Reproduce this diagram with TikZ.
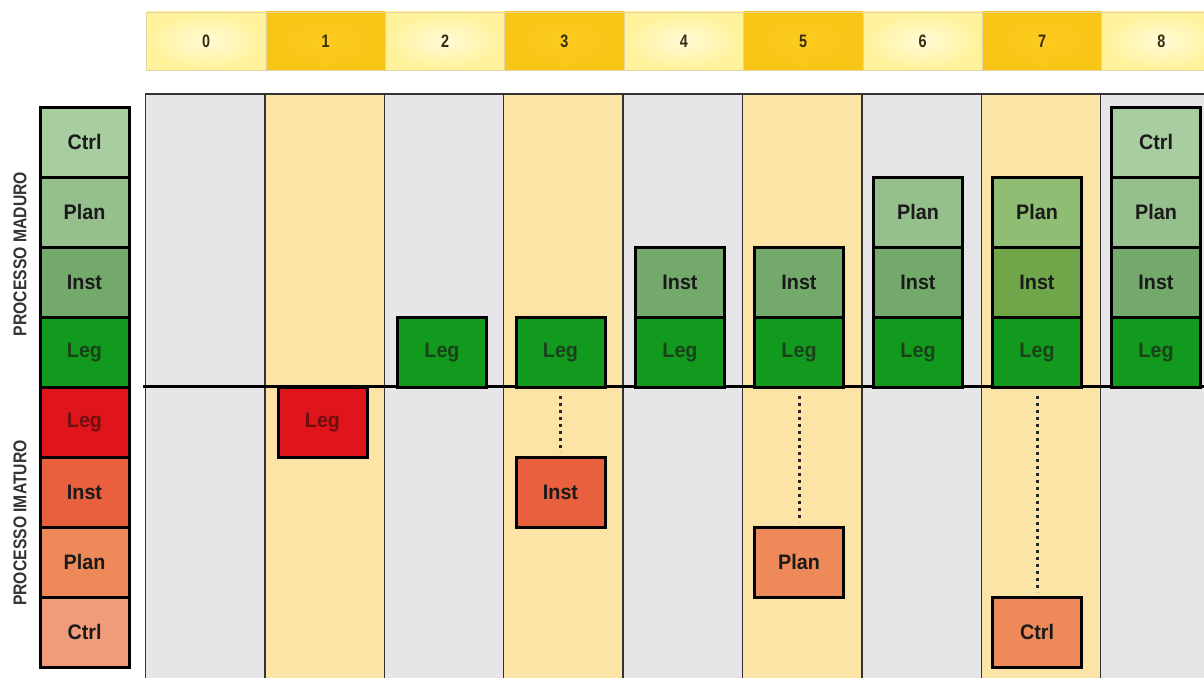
\documentclass[tikz,border=0pt]{standalone}
\usepackage{fontspec}
\setmainfont{Liberation Sans}
\newfontfamily\narrowf[FakeStretch=0.85]{Liberation Sans}
\newfontfamily\cellf[FakeStretch=0.94]{Liberation Sans}
\newfontfamily\digitf[FakeStretch=0.8]{Liberation Sans}
\definecolor{colgray}{HTML}{E6E6E8}
\definecolor{colyel}{HTML}{FCE4A6}
\definecolor{hlight}{HTML}{FFF29A}
\definecolor{hlightc}{HTML}{FFFBD6}
\definecolor{hdark}{HTML}{F9C516}
\definecolor{hdarkc}{HTML}{FCCB1E}
\definecolor{gLeg}{HTML}{129A1E}
\definecolor{gInst}{HTML}{74A96C}
\definecolor{gInstB}{HTML}{6FA64A}
\definecolor{gPlan}{HTML}{95BF8D}
\definecolor{gPlanB}{HTML}{8FBD74}
\definecolor{gCtrl}{HTML}{A8CDA0}
\definecolor{rLeg}{HTML}{E0141B}
\definecolor{rInst}{HTML}{E8603E}
\definecolor{rPlan}{HTML}{EE8A5A}
\definecolor{rCtrl}{HTML}{F09B7A}
\definecolor{legtxt}{HTML}{1A421A}
\definecolor{redtxt}{HTML}{6E1010}
\definecolor{txt}{HTML}{1A1A1A}
\definecolor{dig}{HTML}{3A2C10}
\tikzset{
  cell/.style={draw=black, line width=3pt, minimum width=89pt, minimum height=70pt,
    inner sep=0pt, font=\cellf\bfseries\fontsize{21}{21}\selectfont, text=txt},
  hcell/.style={draw=hdark!60!gray!50, line width=0.6pt, minimum width=119.4pt, minimum height=58pt,
    inner sep=0pt, font=\digitf\bfseries\fontsize{18}{18}\selectfont, text=dig},
  hl/.style={hcell, inner color=hlightc, outer color=hlight},
  hd/.style={hcell, inner color=hdarkc, outer color=hdark},
  colbox/.style={draw=black!80, line width=1.4pt},
  dotline/.style={line width=3pt, dash pattern=on 3pt off 4pt, draw=black!85},
  side/.style={rotate=90, font=\narrowf\bfseries\fontsize{18.5}{18.5}\selectfont, text=black!80}
}
\begin{document}
\begin{tikzpicture}[x=1pt,y=-1pt]
\useasboundingbox (0,0) rectangle (1204,677);
\fill[white] (0,0) rectangle (1204,677);
% header
\foreach \i in {0,...,8}{
  \pgfmathsetmacro{\cx}{146.5+119.4*(\i+0.5)}
  \ifodd\i
    \node[hd] (h\i) at (\cx,41) {\i};
  \else
    \node[hl] (h\i) at (\cx,41) {\i};
  \fi
}
% columns
\foreach \i in {0,...,8}{
  \pgfmathsetmacro{\xa}{145.5+119.4*\i}
  \pgfmathsetmacro{\xb}{145.5+119.4*(\i+1)}
  \ifodd\i
    \fill[colyel] (\xa,94) rectangle (\xb,690);
  \else
    \fill[colgray] (\xa,94) rectangle (\xb,690);
  \fi
  \draw[colbox] (\xa,94) rectangle (\xb,690);
}
% main horizontal line
\draw[line width=3pt] (143,386.5) -- (1210,386.5);
% legend stacks
\node[cell, fill=gCtrl] (lCtrl) at (84.5,142) {Ctrl};
\node[cell, fill=gPlan] (lPlan) at (84.5,212) {Plan};
\node[cell, fill=gInst] (lInst) at (84.5,282) {Inst};
\node[cell, fill=gLeg, text=legtxt] (lLeg) at (84.5,352) {Leg};
\node[cell, fill=rLeg, text=redtxt] (lrLeg) at (84.5,422) {Leg};
\node[cell, fill=rInst] (lrInst) at (84.5,492) {Inst};
\node[cell, fill=rPlan] (lrPlan) at (84.5,562) {Plan};
\node[cell, fill=rCtrl] (lrCtrl) at (84.5,632) {Ctrl};
\node[side] (smat) at (20,254) {PROCESSO MADURO};
\node[side] (simm) at (20,523) {PROCESSO IMATURO};
% column 1
\node[cell, fill=rLeg, text=redtxt] (c1Leg) at (322.5,422) {Leg};
% column 2
\node[cell, fill=gLeg, text=legtxt] (c2Leg) at (442,352) {Leg};
% column 3
\node[cell, fill=gLeg, text=legtxt] (c3Leg) at (560.5,352) {Leg};
\node[cell, fill=rInst] (c3Inst) at (560.5,492) {Inst};
\draw[dotline, shorten <=7pt, shorten >=4pt] (c3Leg.south) -- (c3Inst.north);
% column 4
\node[cell, fill=gInst] (c4Inst) at (680,282) {Inst};
\node[cell, fill=gLeg, text=legtxt] (c4Leg) at (680,352) {Leg};
% column 5
\node[cell, fill=gInst] (c5Inst) at (799,282) {Inst};
\node[cell, fill=gLeg, text=legtxt] (c5Leg) at (799,352) {Leg};
\node[cell, fill=rPlan] (c5Plan) at (799,562) {Plan};
\draw[dotline, shorten <=7pt, shorten >=4pt] (c5Leg.south) -- (c5Plan.north);
% column 6
\node[cell, fill=gPlan] (c6Plan) at (918,212) {Plan};
\node[cell, fill=gInst] (c6Inst) at (918,282) {Inst};
\node[cell, fill=gLeg, text=legtxt] (c6Leg) at (918,352) {Leg};
% column 7
\node[cell, fill=gPlanB] (c7Plan) at (1037,212) {Plan};
\node[cell, fill=gInstB] (c7Inst) at (1037,282) {Inst};
\node[cell, fill=gLeg, text=legtxt] (c7Leg) at (1037,352) {Leg};
\node[cell, fill=rPlan] (c7Ctrl) at (1037,632) {Ctrl};
\draw[dotline, shorten <=7pt, shorten >=4pt] (c7Leg.south) -- (c7Ctrl.north);
% column 8
\node[cell, fill=gCtrl] (c8Ctrl) at (1156,142) {Ctrl};
\node[cell, fill=gPlan] (c8Plan) at (1156,212) {Plan};
\node[cell, fill=gInst] (c8Inst) at (1156,282) {Inst};
\node[cell, fill=gLeg, text=legtxt] (c8Leg) at (1156,352) {Leg};
\end{tikzpicture}
\end{document}
